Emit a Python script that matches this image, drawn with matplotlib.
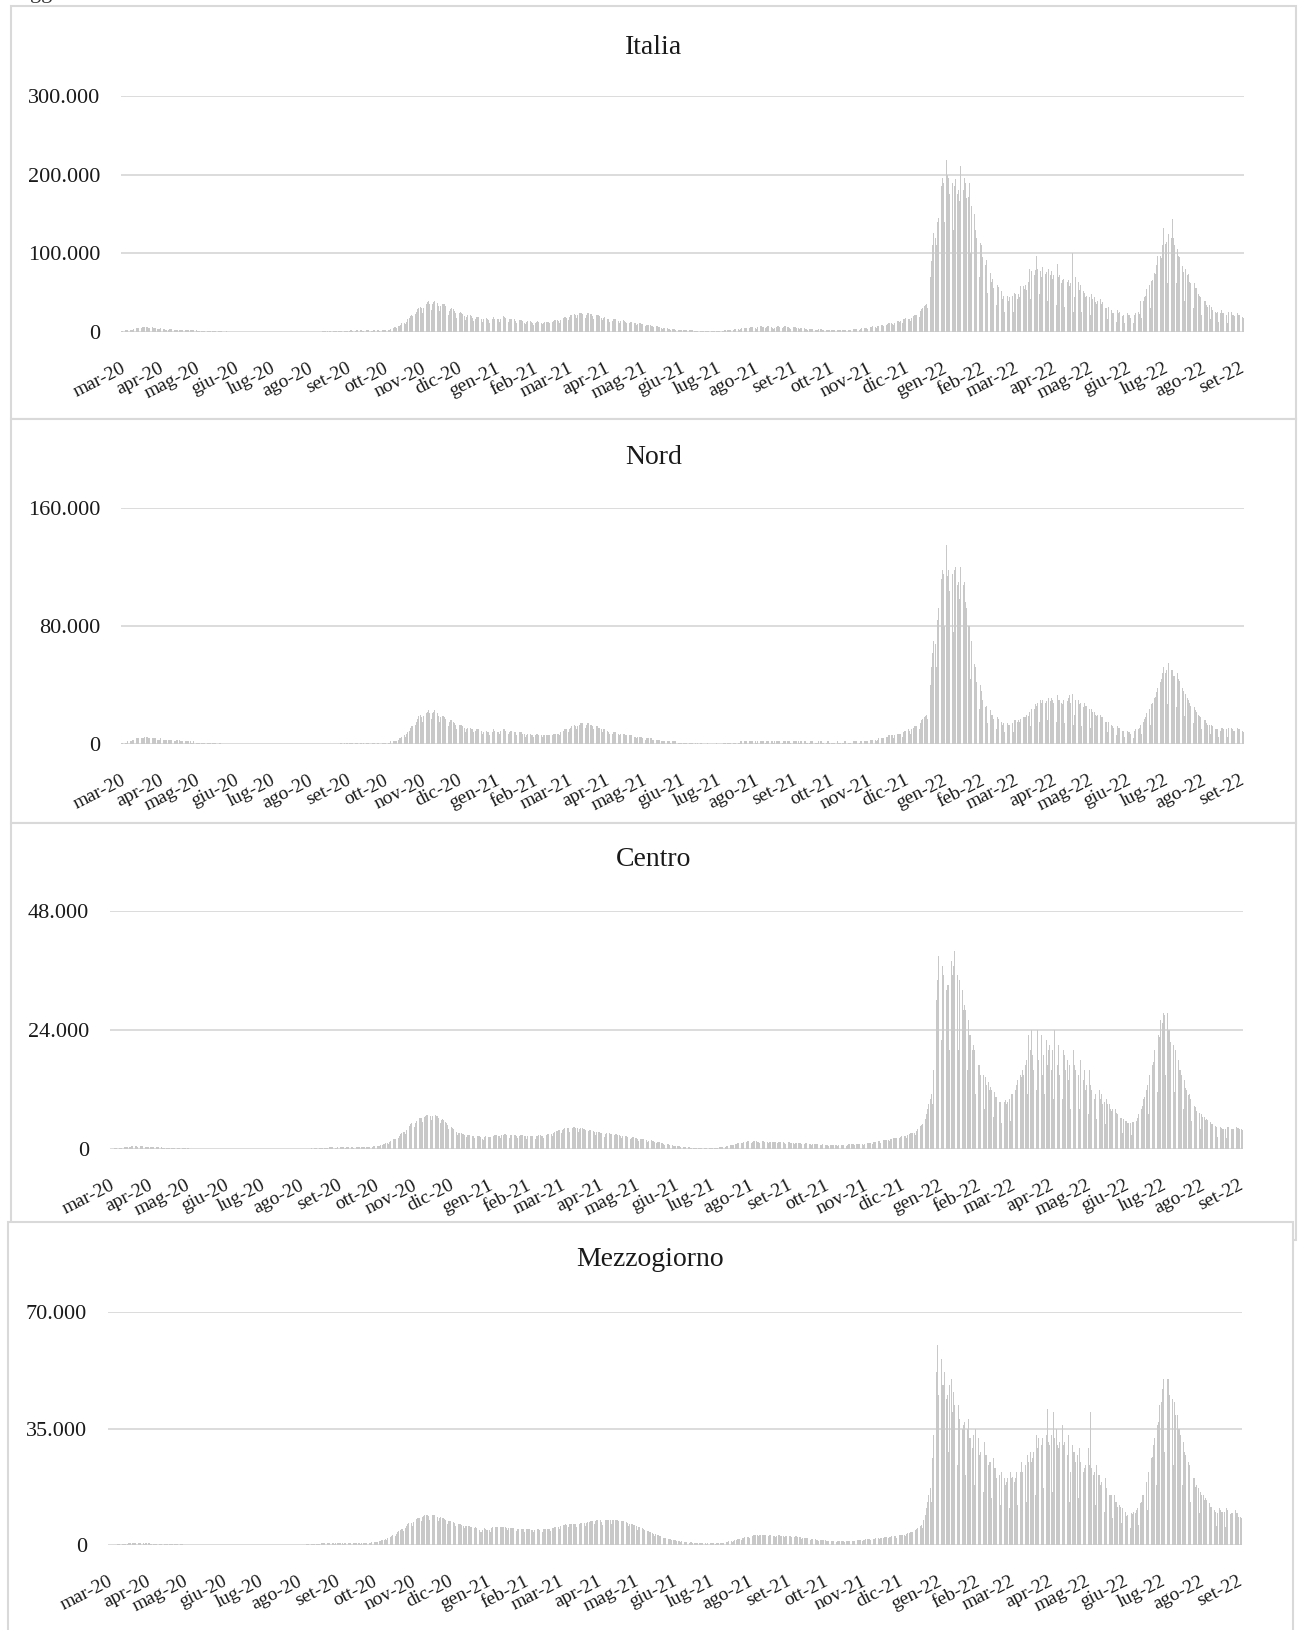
import numpy as np
import pandas as pd
import matplotlib
matplotlib.use("Agg")
import matplotlib.pyplot as plt
from matplotlib.patches import Rectangle

plt.rcParams['font.family'] = ['Liberation Serif', 'DejaVu Serif']

start_day = "2020-03-01"
month_labels = ["mar-20", "apr-20", "mag-20", "giu-20", "lug-20", "ago-20", "set-20", "ott-20",
                "nov-20", "dic-20", "gen-21", "feb-21", "mar-21", "apr-21", "mag-21", "giu-21",
                "lug-21", "ago-21", "set-21", "ott-21", "nov-21", "dic-21", "gen-22", "feb-22",
                "mar-22", "apr-22", "mag-22", "giu-22", "lug-22", "ago-22", "set-22"]

# daily new cases, one row per week (sun..sat) from 1 mar 2020 to 4 set 2022
italia_k = [  # thousands
    [1,1,1,2,2,2,3], [3,3,3,4,4,5,5], [5,4,5,6,6,6,6], [6,5,5,5,6,5,5], [5,4,4,4,5,4,4],
    [4,3,3,3,4,4,4], [3,3,3,3,3,3,3], [3,2,2,3,3,2,2], [2,2,2,2,2,2,1], [1,1,1,1,1,1,1],
    [1,1,1,1,1,1,1], [1,0,1,1,1,1,0], [0,0,1,1,0,0,0], [0,0,0,0,0,0,0], [0,0,0,0,0,0,0],
    [0,0,0,0,0,0,0], [0,0,0,0,0,0,0], [0,0,0,0,0,0,0], [0,0,0,0,0,0,0], [0,0,0,0,0,0,0],
    [0,0,0,0,0,0,0], [0,0,0,0,0,0,0], [0,0,0,0,0,0,0], [0,0,0,1,1,1,1], [1,0,1,1,1,1,1],
    [1,1,1,1,1,1,1], [1,1,1,1,1,2,2], [1,1,1,2,2,2,2], [2,1,1,2,2,2,2], [2,1,1,2,2,2,2],
    [2,1,2,2,3,3,3], [3,2,3,4,5,5,6], [6,5,7,8,9,11,12], [11,10,13,16,18,20,21],
    [20,17,23,26,29,31,32], [30,24,31,34,36,38,39], [35,28,36,38,40,39,37],
    [33,27,33,35,36,35,33], [28,22,27,29,30,29,27], [24,18,22,24,25,24,23],
    [20,15,19,21,22,21,20], [18,14,17,19,19,19,18], [17,13,16,17,18,17,15],
    [12,11,16,19,17,14,16], [16,13,17,19,20,19,18], [16,13,16,17,17,17,16],
    [14,11,14,15,15,15,14], [12,10,13,14,14,14,13], [12,9,12,13,14,13,13],
    [12,10,12,13,13,13,13], [12,10,13,14,15,15,15], [14,12,15,17,18,19,19],
    [18,15,19,21,22,23,23], [21,18,22,24,24,24,23], [21,18,22,24,24,23,23],
    [20,17,21,22,22,21,20], [18,15,18,19,19,17,16], [13,11,14,16,17,16,15],
    [14,12,14,15,15,14,13], [12,10,12,13,13,12,12], [11,9,10,11,11,10,10],
    [9,7,9,9,9,9,8], [7,6,7,7,7,6,6], [5,4,5,5,5,5,4], [4,3,4,4,4,3,3], [3,2,2,3,3,2,2],
    [2,1,2,2,2,2,1], [1,1,1,1,1,1,1], [1,1,1,1,1,1,1], [1,1,1,1,1,1,1], [1,1,1,2,2,2,2],
    [2,2,3,3,4,4,4], [4,3,4,5,5,5,5], [5,4,5,6,6,6,6], [5,4,6,6,7,7,6], [6,5,6,7,7,7,6],
    [5,4,5,6,7,7,6], [6,5,6,7,7,6,6], [5,4,5,6,6,6,5], [5,4,5,5,5,5,4], [4,3,4,4,4,4,4],
    [3,3,3,4,4,4,3], [3,2,3,3,3,3,3], [3,2,3,3,3,3,3], [3,2,3,3,3,3,3], [3,3,3,4,4,4,4],
    [4,3,4,5,5,5,5], [5,4,5,6,6,7,7], [6,5,7,8,8,9,9], [8,7,9,10,11,11,11],
    [10,9,11,13,14,14,13], [14,12,16,17,18,18,17], [17,14,18,20,21,22,22],
    [22,19,27,29,31,33,34], [35,30,55,70,90,110,126], [120,110,140,145,170,185,196],
    [190,140,219,200,196,176,219], [190,130,185,195,176,180,166], [211,120,180,196,190,170,172],
    [190,100,160,139,150,130,120], [113,70,113,110,95,100,85], [92,50,80,75,64,67,56],
    [67,34,60,57,50,52,42], [46,26,48,46,40,44,36], [46,26,50,48,42,48,44],
    [59,30,58,55,60,54,64], [80,42,78,80,72,79,96], [80,48,78,70,82,100,74],
    [76,40,80,72,78,68,72], [74,34,86,70,72,62,66], [67,32,70,64,66,58,62],
    [100,26,45,70,62,64,54], [60,26,52,50,44,46,40], [44,22,48,42,44,38,36],
    [40,20,42,36,38,32,30], [30,16,32,28,28,24,24], [26,13,28,24,25,22,20],
    [22,11,20,24,21,22,18], [20,11,22,24,24,26,23], [39,18,40,44,46,55,54],
    [60,30,65,66,75,74,85], [96,48,96,94,110,132,112], [115,62,125,104,120,144,120],
    [110,62,105,96,95,121,84], [76,40,80,72,74,64,62], [66,30,62,56,56,48,46],
    [45,22,44,40,40,34,32], [34,16,32,28,30,26,24], [26,13,24,28,24,24,20],
    [22,12,26,24,25,22,21], [20,11,24,22,22,19,19], [18],
]

nord_k = [  # thousands
    [1,1,1,1,1,2,2], [2,2,3,3,3,4,4], [4,3,4,4,4,5,5], [5,4,4,4,4,4,4], [4,3,3,3,4,3,3],
    [3,3,3,3,3,3,3], [3,2,2,3,3,3,2], [2,2,2,2,2,2,2], [2,1,1,2,2,1,1], [1,1,1,1,1,1,1],
    [1,1,1,1,1,1,1], [1,0,0,1,1,0,0], [0,0,0,0,0,0,0], [0,0,0,0,0,0,0], [0,0,0,0,0,0,0],
    [0,0,0,0,0,0,0], [0,0,0,0,0,0,0], [0,0,0,0,0,0,0], [0,0,0,0,0,0,0], [0,0,0,0,0,0,0],
    [0,0,0,0,0,0,0], [0,0,0,0,0,0,0], [0,0,0,0,0,0,0], [0,0,0,0,0,0,0], [0,0,0,0,0,0,0],
    [0,0,0,0,1,1,1], [1,0,1,1,1,1,1], [1,0,1,1,1,1,1], [1,0,1,1,1,1,1], [1,0,1,1,1,1,1],
    [1,0,1,1,1,1,1], [1,1,1,2,2,2,2], [2,2,3,4,4,5,5], [6,5,7,8,9,11,12],
    [12,10,13,15,17,19,20], [18,15,19,20,21,22,23], [21,17,21,22,23,22,21],
    [19,15,18,19,19,18,17], [16,12,15,16,16,15,14], [13,10,12,13,13,13,12],
    [11,8,10,11,11,11,10], [10,8,9,10,10,10,9], [9,7,8,9,9,8,8], [6,6,8,10,9,8,8],
    [8,7,9,10,10,10,9], [9,7,8,9,9,9,8], [8,6,7,8,8,8,7], [7,5,6,7,7,7,6], [6,5,6,7,7,6,6],
    [6,5,6,6,6,6,6], [6,5,6,7,7,7,7], [7,6,8,9,9,10,10], [10,8,10,11,12,13,13],
    [12,10,12,13,14,14,14], [13,11,13,14,14,13,13], [12,10,12,12,12,11,11],
    [10,8,10,10,10,9,8], [7,6,7,8,8,8,7], [7,6,7,7,7,7,6], [6,5,6,6,6,6,5], [5,4,5,5,5,5,4],
    [4,3,4,4,4,4,4], [3,3,3,3,3,3,3], [2,2,2,2,2,2,2], [2,1,2,2,2,2,1], [1,1,1,1,1,1,1],
    [1,0,1,1,1,1,0], [1,0,1,1,1,1,0], [0,0,0,1,0,0,0], [0,0,0,1,0,0,0], [1,0,1,1,1,1,1],
    [1,1,1,1,1,1,1], [1,1,2,2,2,2,2], [2,1,2,2,2,2,2], [2,1,2,2,2,2,2], [2,1,2,2,2,2,2],
    [2,1,2,2,2,2,2], [2,1,2,2,2,2,2], [2,1,2,2,2,2,2], [2,1,2,2,2,2,2], [1,1,1,2,2,2,1],
    [1,1,1,2,2,2,1], [1,1,1,2,2,1,1], [1,1,1,2,2,1,1], [1,1,1,2,2,1,1], [1,1,2,2,2,2,2],
    [2,1,2,2,2,2,2], [2,2,2,3,3,3,3], [3,2,3,4,4,4,4], [4,3,5,5,6,6,6], [6,4,6,7,7,7,7],
    [7,5,8,9,9,10,10], [9,7,10,11,12,12,12], [12,10,14,16,17,18,19],
    [20,17,32,40,52,62,70], [68,52,84,92,100,112,118], [115,80,135,114,118,104,125],
    [115,76,118,120,108,110,98], [120,66,108,110,96,92,80], [80,44,70,64,54,52,42],
    [42,24,40,36,30,30,25], [26,14,25,23,20,20,17], [18,10,18,17,15,15,13],
    [14,8,15,14,13,13,12], [14,8,16,16,15,16,15], [17,9,18,18,18,20,19],
    [22,12,24,25,24,27,26], [28,15,30,28,30,31,28], [29,16,31,29,31,30,28],
    [29,15,33,30,30,28,27], [30,14,32,29,31,33,28], [34,13,20,30,29,30,27],
    [28,12,25,28,26,26,23], [24,11,24,22,22,20,19], [20,9,20,18,18,16,15],
    [15,8,15,14,13,12,11], [12,6,12,11,11,9,9], [9,5,9,9,8,8,7], [8,4,9,10,10,10,11],
    [13,7,15,17,18,21,22], [24,13,27,28,31,32,35], [38,21,42,44,48,52,48],
    [50,27,55,58,50,50,46], [46,25,48,44,43,40,38], [36,19,34,31,30,28,26],
    [26,14,25,23,22,20,19], [18,10,18,16,16,14,13], [13,7,13,12,12,10,10],
    [10,5,9,11,11,10,9], [10,5,11,11,11,10,9], [9,5,11,10,10,9,9], [8],
]

centro_h = [  # hundreds
    [1,1,1,2,2,3,3], [3,3,3,4,4,5,5], [5,4,5,6,6,6,6], [6,5,5,6,6,6,5], [5,4,5,5,5,4,4],
    [4,3,4,4,4,4,4], [3,3,3,3,3,3,3], [3,2,2,3,3,2,2], [2,2,2,2,2,2,2], [2,1,1,1,1,1,1],
    [1,1,1,1,1,1,1], [1,1,1,1,1,1,1], [1,1,1,1,1,1,1], [1,0,0,1,1,1,0], [1,0,0,1,1,1,0],
    [1,0,0,1,1,1,0], [1,0,0,1,1,1,0], [1,0,0,1,1,1,0], [1,0,0,1,1,1,0], [1,0,0,1,1,1,0],
    [1,0,1,1,1,1,1], [1,0,1,1,1,1,1], [1,1,1,1,1,1,1], [1,1,2,2,2,2,2], [2,2,3,3,3,3,3],
    [3,3,4,4,4,4,4], [3,3,4,4,4,4,4], [4,3,4,4,4,4,4], [4,3,4,4,5,5,5], [5,4,4,5,5,5,5],
    [5,4,5,6,6,7,7], [7,6,8,9,10,11,12], [12,10,14,16,18,20,21], [20,17,23,27,30,33,35],
    [35,30,38,43,47,50,52], [50,44,53,57,60,62,63], [62,55,64,67,68,68,67],
    [66,58,66,70,69,67,66], [62,52,58,60,58,55,52], [48,40,45,45,43,41,38],
    [35,28,32,33,32,31,30], [29,24,28,29,29,28,27], [27,22,26,27,27,26,24],
    [20,18,24,27,26,24,25], [25,21,27,29,29,28,27], [27,22,28,29,30,30,29],
    [28,23,28,29,29,29,28], [27,22,27,28,28,28,27], [26,21,26,27,27,27,26],
    [26,21,26,27,28,28,27], [27,22,28,29,30,31,31], [31,26,33,35,36,37,38],
    [38,32,39,41,42,43,43], [42,35,42,43,44,44,43], [42,35,41,42,42,41,40],
    [38,32,37,38,38,37,36], [35,29,34,35,35,33,32], [28,24,30,33,33,32,31],
    [30,25,29,30,30,29,28], [27,22,26,27,27,26,25], [24,20,23,24,24,23,22],
    [21,17,20,21,21,20,19], [18,14,17,18,18,17,16], [15,12,14,14,14,13,12],
    [11,9,10,10,10,9,9], [8,6,7,7,7,6,6], [5,4,5,5,5,4,4], [4,3,3,3,3,3,3], [3,2,3,3,3,3,2],
    [2,2,2,3,3,3,3], [3,3,3,4,4,4,5], [5,4,6,6,7,8,8], [9,8,10,11,12,13,13],
    [13,12,14,15,15,16,16], [15,13,15,16,16,16,15], [15,13,15,16,16,15,15],
    [14,12,14,15,15,15,14], [14,12,14,15,15,14,14], [13,11,13,14,14,13,13],
    [12,10,12,13,13,12,12], [11,9,11,12,12,11,11], [10,8,10,11,11,10,10], [9,8,9,10,10,9,9],
    [9,7,9,9,9,9,9], [8,7,8,9,9,9,9], [9,7,9,10,10,10,10], [10,8,10,11,11,11,11],
    [11,9,11,12,13,13,13], [13,11,14,15,15,16,16], [16,13,17,18,19,19,19],
    [19,16,20,21,22,22,22], [22,18,23,25,26,26,26], [26,22,28,30,32,33,33],
    [33,28,36,40,43,46,48], [50,44,60,70,80,90,100], [110,90,160,230,300,340,390],
    [330,220,370,350,350,320,330], [330,200,380,350,370,400,410], [350,200,340,320,320,280,290],
    [280,160,260,230,230,200,210], [200,110,190,170,170,150,150], [150,80,145,130,135,120,125],
    [120,64,115,105,105,95,95], [95,52,100,95,98,90,95], [100,56,110,110,120,118,130],
    [140,76,150,146,160,150,170], [180,110,230,200,240,190,160], [170,120,240,180,210,230,150],
    [190,110,220,170,200,210,160], [200,100,240,180,170,210,150], [180,100,200,190,160,180,140],
    [170,80,110,200,170,160,130], [150,80,180,150,140,160,120], [130,70,160,130,120,140,100],
    [110,60,220,120,100,110,90], [95,50,100,90,90,80,76], [80,40,80,72,70,64,62],
    [62,32,60,56,56,52,52], [52,28,55,54,58,56,62], [70,36,80,86,100,104,120],
    [130,70,150,150,170,175,200], [210,115,230,225,260,255,275], [270,150,275,240,240,215,220],
    [210,115,200,180,180,160,160], [150,80,140,124,120,108,110], [100,56,95,86,85,76,75],
    [72,40,70,64,65,58,60], [58,32,55,50,50,45,46], [44,24,42,45,42,40,40],
    [40,22,45,44,44,40,40], [40,21,45,43,43,40,40], [38],
]

mezzogiorno_h = [  # hundreds
    [0,0,1,1,1,1,2], [2,2,2,3,3,3,4], [4,4,5,5,5,6,6], [6,5,6,6,6,5,5], [5,4,5,5,5,5,4],
    [4,3,4,4,4,4,3], [3,2,3,3,3,3,3], [3,2,2,2,2,2,2], [2,1,2,2,2,1,1], [1,1,1,1,1,1,1],
    [1,0,1,1,1,1,0], [1,0,1,1,1,1,0], [1,0,1,1,1,1,0], [0,0,0,1,0,0,0], [0,0,0,1,0,0,0],
    [0,0,0,1,0,0,0], [0,0,0,1,0,0,0], [0,0,0,1,0,0,0], [0,0,0,1,0,0,0], [0,0,0,1,0,0,0],
    [0,0,0,1,0,0,0], [0,0,0,1,1,1,1], [1,1,1,1,1,2,2], [2,2,2,3,3,3,3], [3,3,4,4,5,5,5],
    [5,4,5,5,6,6,6], [5,4,5,5,5,5,5], [5,4,5,6,6,6,6], [5,4,5,6,6,6,6], [5,4,5,6,6,6,6],
    [7,6,7,8,8,9,10], [10,9,12,13,14,15,16], [17,15,20,22,25,27,29], [30,26,34,38,42,45,48],
    [48,42,52,57,62,66,68], [66,58,70,74,78,80,82], [82,72,85,88,90,91,90],
    [88,76,88,90,90,89,87], [84,72,82,83,82,80,78], [75,63,72,72,71,70,68],
    [66,56,64,64,63,62,60], [58,50,57,58,58,57,55], [54,46,52,53,52,50,46],
    [40,38,45,50,48,44,46], [46,40,50,54,55,55,54], [53,45,53,55,55,55,54],
    [52,44,51,52,52,51,50], [49,42,48,49,49,48,47], [47,40,47,48,48,47,46],
    [46,40,46,47,47,47,46], [46,40,47,48,49,49,49], [49,42,50,52,53,54,55],
    [55,48,57,59,60,61,62], [61,53,62,63,64,64,64], [63,55,63,64,65,65,65],
    [65,57,66,68,70,71,72], [72,62,73,75,76,75,75], [70,60,68,74,76,76,75],
    [74,64,74,75,76,75,74], [72,62,71,72,72,70,68], [66,56,64,64,63,61,59],
    [56,46,54,53,52,50,48], [45,37,43,42,40,38,36], [34,28,32,31,29,28,26],
    [24,20,22,21,20,19,18], [17,14,15,15,14,13,12], [12,10,11,11,10,10,9], [9,7,8,8,7,7,7],
    [6,5,6,6,6,6,5], [5,4,5,5,5,5,5], [5,4,5,6,6,7,7], [7,6,8,9,10,11,11],
    [12,10,13,15,16,17,18], [18,16,20,22,23,24,25], [25,22,26,28,29,30,30],
    [29,26,29,31,31,31,30], [29,25,28,30,30,29,28], [28,24,28,29,29,28,27],
    [27,23,27,28,28,27,26], [25,21,25,26,26,25,24], [23,19,22,22,22,21,20],
    [19,16,18,18,18,17,16], [16,13,15,15,15,14,14], [13,11,13,13,13,13,12],
    [12,10,12,12,12,12,12], [12,10,12,13,13,13,13], [13,11,13,14,14,15,15],
    [15,13,15,16,17,17,17], [17,15,18,19,19,20,20], [20,17,21,22,22,23,23],
    [23,20,24,25,26,26,26], [26,22,27,29,30,31,31], [31,27,33,35,37,38,39],
    [40,35,44,48,52,55,58], [60,52,75,90,110,130,150], [170,130,260,330,400,520,600],
    [450,300,560,480,480,520,440], [450,280,480,500,400,460,420], [430,240,420,380,380,350,360],
    [370,210,350,380,320,320,290], [330,180,350,290,320,270,280], [300,160,310,270,270,240,250],
    [250,140,260,230,230,200,210], [210,120,220,200,200,180,190], [200,110,220,200,205,190,200],
    [220,120,240,220,250,220,230], [240,130,270,250,280,250,260], [280,150,330,290,320,360,300],
    [320,170,380,330,410,310,300], [330,160,400,320,350,300,290], [310,150,360,300,310,280,270],
    [330,130,220,300,280,280,250], [270,140,290,250,250,220,230], [240,130,290,240,400,230,210],
    [220,120,240,210,210,180,190], [190,100,200,170,170,150,150], [150,80,150,130,130,115,120],
    [115,65,110,100,100,88,90], [90,50,95,92,100,95,105], [110,60,125,130,150,150,175],
    [190,105,220,230,260,265,300], [320,180,360,370,420,430,470], [500,280,560,500,500,450,460],
    [440,240,430,390,390,350,350], [330,180,310,280,270,240,250], [240,130,220,200,200,175,180],
    [170,95,160,150,150,135,140], [135,75,125,115,115,102,105], [100,56,95,110,105,98,100],
    [100,54,110,106,105,94,95], [95,50,105,96,95,85,85], [80],
]

W, H = 1298, 1630
n_days = 918


def flat(rows, unit):
    v = np.array([x for r in rows for x in r], dtype=float) * unit
    assert len(v) == n_days, len(v)
    return v


def fig_box(x0, y0, x1, y1):
    return [x0 / W, 1 - y1 / H, (x1 - x0) / W, (y1 - y0) / H]


days = pd.date_range(start_day, periods=n_days, freq="D")
month_starts = pd.date_range("2020-03-01", "2022-09-01", freq="MS")
tick_pos = [(m - days[0]).days - 0.5 for m in month_starts]

# title, values, y ticks, plot box (px), panel box (px), title y (px)
panels = [
    ("Italia", flat(italia_k, 1000), [0, 100000, 200000, 300000],
     (121, 96, 1244, 332), (11, 6, 1296, 419), 47),
    ("Nord", flat(nord_k, 1000), [0, 80000, 160000],
     (121, 508, 1244, 744), (11, 419, 1296, 823), 457),
    ("Centro", flat(centro_h, 100), [0, 24000, 48000],
     (110, 911, 1243, 1149), (11, 823, 1296, 1240), 860),
    ("Mezzogiorno", flat(mezzogiorno_h, 100), [0, 35000, 70000],
     (108, 1312, 1242, 1545), (8, 1222, 1293, 1660), 1259),
]

fig = plt.figure(figsize=(W / 100, H / 100), dpi=100)
fig.patch.set_facecolor("white")

# clipped text above the first chart
fig.text(30 / W, 1 + 1.5 / H, "gg", fontsize=16, color="#333333", va="baseline")

x = np.arange(n_days)
for i, (title, vals, yt, pbox, frame, ty) in enumerate(panels):
    fx0, fy0, fx1, fy1 = frame
    fig.add_artist(Rectangle((fx0 / W, 1 - fy1 / H), (fx1 - fx0) / W, (fy1 - fy0) / H,
                             transform=fig.transFigure, facecolor="white",
                             edgecolor="#d9d9d9", lw=1.5, zorder=-2 + i * 0.1))
    fig.text((fx0 + fx1) / 2 / W, 1 - ty / H, title, ha="center", va="center",
             fontsize=20, color="#1a1a1a")

    ax = fig.add_axes(fig_box(*pbox))
    ax.set_facecolor("none")
    ax.bar(x, vals, width=0.7, color="#c8c8c8", linewidth=0)
    ax.set_xlim(-0.5, n_days - 0.5)
    ax.set_ylim(0, yt[-1])
    ax.set_yticks(yt)
    ax.set_yticklabels([f"{v:,.0f}".replace(",", ".") for v in yt])
    ax.set_axisbelow(True)
    ax.yaxis.grid(True, color="#d9d9d9", lw=1.3)
    ax.set_xticks(tick_pos)
    ax.set_xticklabels(month_labels, rotation=27, ha="right", va="top",
                       rotation_mode="anchor")
    ax.tick_params(axis="y", length=0, pad=15, labelsize=16, labelcolor="#1a1a1a")
    ax.tick_params(axis="x", length=0, pad=20, labelsize=14, labelcolor="#1a1a1a")
    for s in ax.spines.values():
        s.set_visible(False)

fig.savefig("out.png", dpi=100, facecolor="white")
